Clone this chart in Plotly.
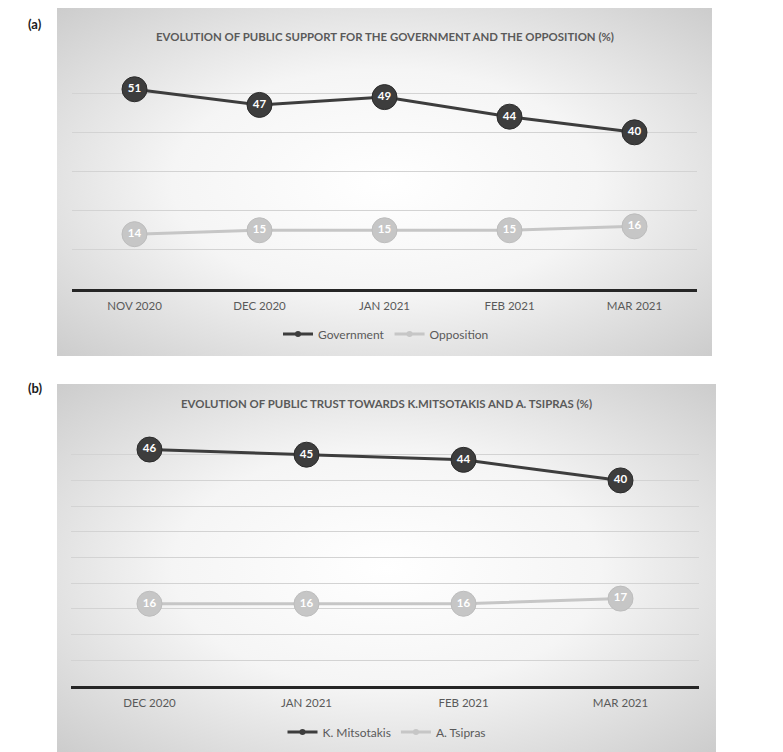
import base64
import plotly.graph_objects as go

# ---------------- data ----------------
months_a = ["NOV 2020", "DEC 2020", "JAN 2021", "FEB 2021", "MAR 2021"]
government = [51, 47, 49, 44, 40]
opposition = [14, 15, 15, 15, 16]

months_b = ["DEC 2020", "JAN 2021", "FEB 2021", "MAR 2021"]
mitsotakis = [46, 45, 44, 40]
tsipras = [16, 16, 16, 17]

title_a = "EVOLUTION OF PUBLIC SUPPORT FOR THE GOVERNMENT AND THE OPPOSITION (%)"
title_b = "EVOLUTION OF PUBLIC TRUST TOWARDS K.MITSOTAKIS AND A. TSIPRAS (%)"

# ---------------- style ----------------
OX, OY = 8, 8            # page body margin
W, H = 783 - OX, 752 - OY
DARK = "#3d3d3d"
LIGHT = "#c6c6c6"
TXT = "#5a5a5a"
GRID = "#d3d3d3"
FONT = "Lato, Open Sans, sans-serif"


def px(x):
    return (x - OX) / W


def py(y):
    return 1 - (y - OY) / H


def grad_uri(w, h):
    svg = (
        f'<svg xmlns="http://www.w3.org/2000/svg" width="{w}" height="{h}" '
        f'viewBox="0 0 {w} {h}" preserveAspectRatio="none">'
        '<defs><radialGradient id="g" cx="50%" cy="50%" r="72%">'
        '<stop offset="0" stop-color="#ffffff"/>'
        '<stop offset="0.45" stop-color="#f5f5f5"/>'
        '<stop offset="1" stop-color="#cbcbcb"/>'
        '</radialGradient></defs>'
        f'<rect x="0" y="0" width="{w}" height="{h}" fill="url(#g)"/></svg>'
    )
    return "data:image/svg+xml;base64," + base64.b64encode(svg.encode()).decode()


fig = go.Figure()


def add_panel(xa, ya, cats, s1, s2, n1, n2, legend):
    fig.add_trace(go.Scatter(x=cats, y=s1, mode="lines+markers", xaxis=xa, yaxis=ya,
                             line=dict(color=DARK, width=3),
                             marker=dict(size=25, color=DARK, line=dict(color="#2b2b2b", width=1)),
                             showlegend=False, hoverinfo="skip"))
    fig.add_trace(go.Scatter(x=cats, y=s2, mode="lines+markers", xaxis=xa, yaxis=ya,
                             line=dict(color=LIGHT, width=3),
                             marker=dict(size=25, color=LIGHT, line=dict(color="#bdbdbd", width=1)),
                             showlegend=False, hoverinfo="skip"))
    for s in (s1, s2):
        fig.add_trace(go.Scatter(x=cats, y=s, mode="text", xaxis=xa, yaxis=ya,
                                 text=[str(v) for v in s], textposition="middle center",
                                 textfont=dict(family=FONT, size=11.5, color="white", weight="bold"),
                                 showlegend=False, hoverinfo="skip"))
    fig.add_trace(go.Scatter(x=[None], y=[None], mode="lines+markers", name=n1, xaxis=xa, yaxis=ya,
                             line=dict(color=DARK, width=3), marker=dict(size=6, color=DARK),
                             legend=legend))
    fig.add_trace(go.Scatter(x=[None], y=[None], mode="lines+markers", name=n2, xaxis=xa, yaxis=ya,
                             line=dict(color=LIGHT, width=3), marker=dict(size=6, color=LIGHT),
                             legend=legend))


add_panel("x", "y", months_a, government, opposition, "Government", "Opposition", "legend")
add_panel("x2", "y2", months_b, mitsotakis, tsipras, "K. Mitsotakis", "A. Tsipras", "legend2")

axis_x = dict(type="category", showgrid=False, showline=True, linecolor="#262626", linewidth=2.5,
              ticks="", ticklabelstandoff=4,
              tickfont=dict(family=FONT, size=11.5, color=TXT), fixedrange=True)
axis_y = dict(showgrid=True, gridcolor=GRID, gridwidth=1, showticklabels=False,
              zeroline=False, showline=False, ticks="", fixedrange=True)

legend_style = dict(orientation="h", xanchor="center", yanchor="middle",
                    bgcolor="rgba(0,0,0,0)", font=dict(family=FONT, size=12, color=TXT),
                    itemwidth=30, tracegroupgap=0)

fig.update_layout(
    width=W, height=H,
    margin=dict(l=0, r=0, t=0, b=0),
    paper_bgcolor="white", plot_bgcolor="rgba(0,0,0,0)",
    font=dict(family=FONT, color=TXT),
    xaxis=dict(axis_x, domain=[px(72), px(697)], range=[-0.5, len(months_a) - 0.5], anchor="y"),
    yaxis=dict(axis_y, domain=[py(289), py(54)], range=[0, 60], dtick=10, anchor="x"),
    xaxis2=dict(axis_x, domain=[px(71), px(699)], range=[-0.5, len(months_b) - 0.5], anchor="y2"),
    yaxis2=dict(axis_y, domain=[py(686), py(429)], range=[0, 50], dtick=5, anchor="x2"),
    legend=dict(legend_style, x=px(386), y=py(334)),
    legend2=dict(legend_style, x=px(387), y=py(732)),
    images=[
        dict(source=grad_uri(655, 348), xref="paper", yref="paper",
             x=px(57), y=py(8), sizex=(712 - 57) / W, sizey=(356 - 8) / H,
             xanchor="left", yanchor="top", sizing="stretch", layer="below"),
        dict(source=grad_uri(659, 368), xref="paper", yref="paper",
             x=px(57), y=py(384), sizex=(716 - 57) / W, sizey=(752 - 384) / H,
             xanchor="left", yanchor="top", sizing="stretch", layer="below"),
    ],
    annotations=[
        dict(text="<b>" + title_a + "</b>", xref="paper", yref="paper", x=px(385), y=py(28),
             showarrow=False, font=dict(family=FONT, size=11.4, color=TXT)),
        dict(text="<b>" + title_b + "</b>", xref="paper", yref="paper", x=px(386), y=py(403),
             showarrow=False, font=dict(family=FONT, size=11.4, color=TXT)),
        dict(text="<b>(a)</b>", xref="paper", yref="paper", x=px(26), y=py(14),
             xanchor="left", showarrow=False, font=dict(family=FONT, size=13, color="#1a1a1a")),
        dict(text="<b>(b)</b>", xref="paper", yref="paper", x=px(26), y=py(388),
             xanchor="left", showarrow=False, font=dict(family=FONT, size=13, color="#1a1a1a")),
    ],
)

fig.write_html("out.html")
